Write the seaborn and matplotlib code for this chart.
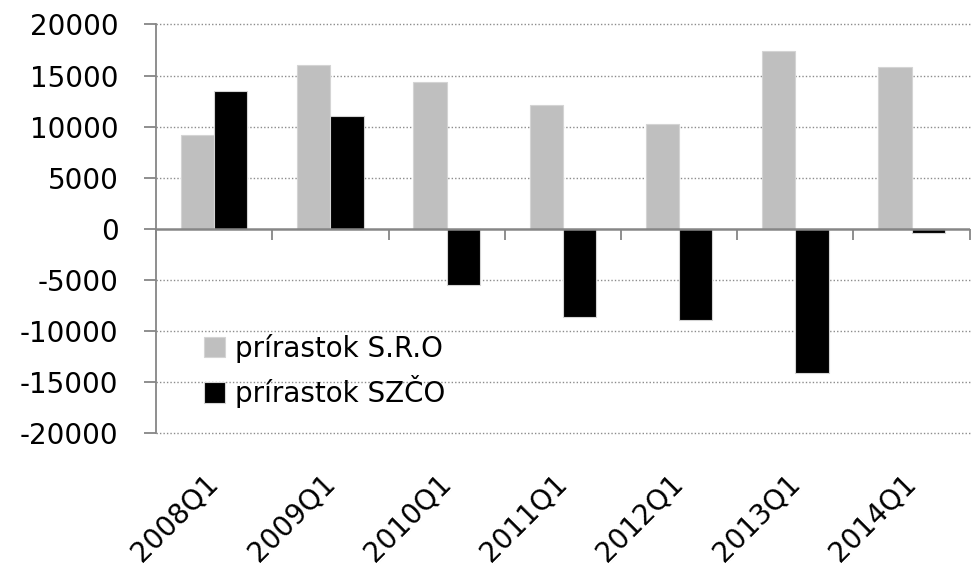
import matplotlib
matplotlib.use('Agg')
import matplotlib.pyplot as plt
import numpy as np
import pandas as pd
import seaborn as sns

sns.set_style('white')
plt.rcParams['font.family'] = ['DejaVu Sans']
plt.rcParams['axes.unicode_minus'] = False
plt.rcParams['text.color'] = 'black'

quarters = ['2008Q1', '2009Q1', '2010Q1', '2011Q1', '2012Q1', '2013Q1', '2014Q1']
prirastok_sro = [9200, 16050, 14380, 12100, 10230, 17390, 15790]
prirastok_szco = [13470, 11080, -5490, -8600, -8890, -14150, -400]
series_names = ['prírastok S.R.O', 'prírastok SZČO']
series_colors = ['#bfbfbf', '#000000']
y_ticks = [-20000, -15000, -10000, -5000, 0, 5000, 10000, 15000, 20000]

df = pd.DataFrame({
    'quarter': quarters * 2,
    'value': prirastok_sro + prirastok_szco,
    'series': [series_names[0]] * len(quarters) + [series_names[1]] * len(quarters),
})

fig = plt.figure(figsize=(9.71, 5.67), dpi=100)
ax = fig.add_axes([0.1607, 0.2363, 0.838, 0.7205])

sns.barplot(data=df, x='quarter', y='value', hue='series', palette=series_colors,
            width=0.572, gap=0, linewidth=0.8, edgecolor='#d4d4d4', saturation=1,
            ax=ax, legend=True)

ymin, ymax = y_ticks[0], y_ticks[-1]
ax.set_ylim(ymin, ymax)
ax.set_xlim(-0.5, len(quarters) - 0.5)
ax.set_yticks(y_ticks)
ax.set_xlabel('')
ax.set_ylabel('')

# dotted grid, zero is the solid axis line
for t in y_ticks:
    if t != 0:
        ax.axhline(t, color='#8c8c8c', linestyle=(0, (1, 1.5)), linewidth=1.0,
                   zorder=0, clip_on=False)
ax.axhline(0, color='#868686', linewidth=1.8, zorder=3)

for s in ['top', 'right', 'bottom']:
    ax.spines[s].set_visible(False)
ax.spines['left'].set_color('#868686')
ax.spines['left'].set_linewidth(1.3)

ax.tick_params(axis='y', direction='out', length=9, width=1.3, color='#868686',
               pad=18, labelsize=20, labelcolor='black', left=True)
ax.tick_params(axis='x', length=0, pad=33, labelsize=20, labelcolor='black', bottom=True)
for lbl in ax.get_xticklabels():
    lbl.set_rotation(45)
    lbl.set_ha('right')
    lbl.set_va('center')
    lbl.set_rotation_mode('anchor')

# category boundary ticks hanging below the zero line
zero_loc = (0 - ymin) / (ymax - ymin)
sec = ax.secondary_xaxis(zero_loc)
sec.xaxis.set_ticks_position('bottom')
sec.set_xticks(np.arange(len(quarters) + 1) - 0.5)
sec.set_xticklabels([])
sec.tick_params(axis='x', which='both', direction='out', length=8, width=1.3,
                color='#868686', bottom=True, top=False)
for s in ['top', 'bottom', 'left', 'right']:
    sec.spines[s].set_visible(False)

leg = ax.legend(loc='center left', bbox_to_anchor=(0.059, 0.152), frameon=False,
                fontsize=20, handlelength=0.75, handleheight=0.75,
                handletextpad=0.35, labelspacing=0.45, borderpad=0, borderaxespad=0)
for t in leg.get_texts():
    t.set_color('black')

fig.savefig('out.png', dpi=100)
